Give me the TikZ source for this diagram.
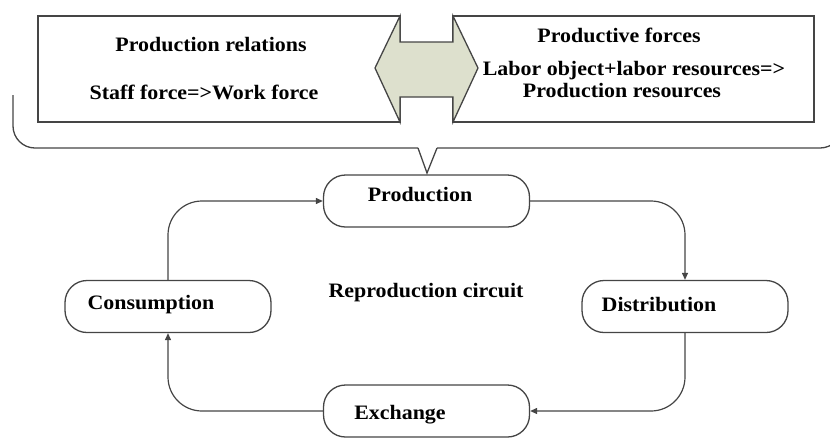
\documentclass[tikz,border=0pt]{standalone}
\usepackage{fontspec}
\setmainfont{Liberation Serif}[FakeStretch=1.07]
\usetikzlibrary{arrows.meta}
\definecolor{linegray}{HTML}{454545}
\definecolor{sage}{HTML}{DDE0CD}

\begin{document}
\begin{tikzpicture}[x=1pt, y=-1pt,
    every node/.style={font=\fontsize{20.5}{24}\selectfont\bfseries},
    box/.style={draw=linegray, line width=1.3pt, minimum height=106pt, inner sep=0pt},
    stage/.style={draw=linegray, line width=1.3pt, fill=white, rounded corners=22pt,
                  minimum width=206pt, minimum height=52pt, inner sep=0pt},
    txt/.style={anchor=base, inner sep=0pt},
    flow/.style={draw=linegray, line width=1.2pt, rounded corners=34pt,
                 -{Triangle[length=7pt,width=6pt]}},
    callout/.style={draw=linegray, line width=1.3pt, rounded corners=22pt}]

    \clip (0,0) rectangle (830,437);

    % upper boxes and the double arrow
    \node[box, minimum width=362pt] (Rel) at (219,69) {};
    \node[box, minimum width=361pt] (Frc) at (633.5,69) {};
    \filldraw[fill=sage, draw=linegray, line width=1.3pt]
        (400,16) -- (400,42) -- (453,42) -- (453,16) -- (478,68) -- (453,122)
        -- (453,97) -- (400,97) -- (400,122) -- (375,68) -- cycle;

    \node[txt] (RelT) at (211,51) {Production relations};
    \node[txt] (Staff) at (204,99) {Staff force=>Work force};
    \node[txt] (FrcT) at (619,42) {Productive forces};
    \node[txt] (Labor) at (634,75) {Labor object+labor resources=>};
    \node[txt] (PRes) at (622,97) {Production resources};

    % callout bracket
    \draw[callout] (13,95) -- (13,148) -- (418,148);
    \draw[linegray, line width=1.3pt] (418,148) -- (427,173) -- (437,148);
    \draw[callout] (437,148) -- (842,148) -- (842,100);

    % reproduction circuit
    \node[stage] (Prod) at (426.5,201) {};
    \node[stage] (Dist) at (685,306.5) {};
    \node[stage] (Exch) at (426.5,411) {};
    \node[stage] (Cons) at (168,306.5) {};

    \node[txt] (ProdT) at (420,201) {Production};
    \node[txt] (DistT) at (659,311) {Distribution};
    \node[txt] (ExchT) at (400,419) {Exchange};
    \node[txt] (ConsT) at (151,309) {Consumption};
    \node[txt] (Circ) at (426,297) {Reproduction circuit};

    \draw[flow] (Prod.east) -| (Dist.north);
    \draw[flow] (Dist.south) |- (Exch.east);
    \draw[flow] (Exch.west) -| (Cons.south);
    \draw[flow] (Cons.north) |- (Prod.west);
\end{tikzpicture}
\end{document}
